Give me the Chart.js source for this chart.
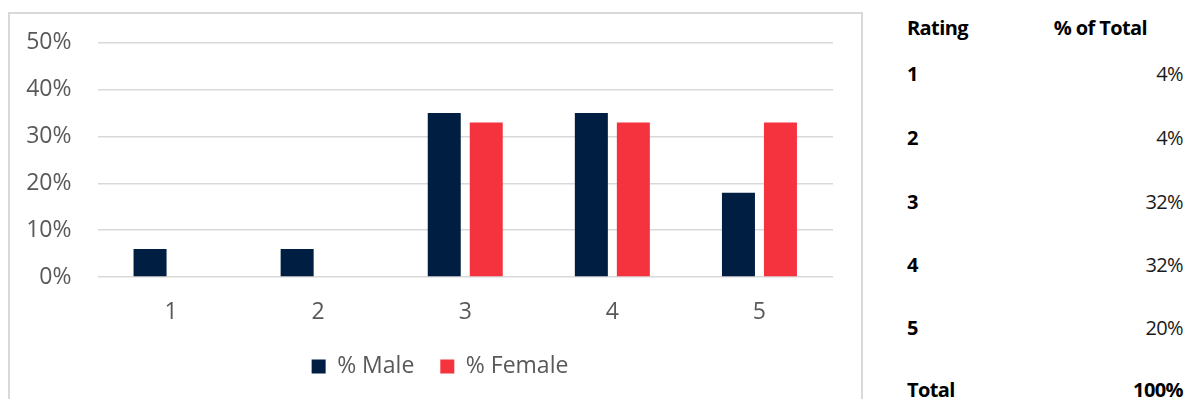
<!DOCTYPE html>
<html>
<head>
<meta charset="utf-8">
<script src="https://cdn.jsdelivr.net/npm/chart.js"></script>
<style>
  body {
    margin: 0;
    width: 1190px;
    height: 399px;
    overflow: hidden;
    background: #fff;
    font-family: "Open Sans", sans-serif;
  }
  #chartBox {
    position: absolute;
    left: 8px;
    top: 12px;
    width: 851px;
    height: 400px;
    border: 2px solid #d9d9d9;
  }
  #ratingChart {
    position: absolute;
    left: 10px;
    top: 3px;
  }
  .row {
    position: absolute;
    left: 907px;
    width: 276px;
    height: 28px;
    line-height: 28px;
    font-size: 20px;
    color: #000;
    letter-spacing: -0.6px;
  }
  .row .label {
    position: absolute;
    left: 0;
    font-weight: 700;
  }
  .row .value {
    position: absolute;
    right: 0;
    color: #1a1a1a;
  }
  .row .head {
    position: absolute;
    right: 36px;
    font-weight: 700;
  }
  .row .bold {
    font-weight: 700;
    color: #000;
  }
</style>
</head>
<body>
<div id="chartBox"></div>
<canvas id="ratingChart" width="860" height="396"></canvas>
<div id="ratingTable"></div>

<script>
// ===== data =====
const ratings = ["1", "2", "3", "4", "5"];
const malePct = [6, 6, 35, 35, 18];
const femalePct = [0, 0, 33, 33, 33];
const yTicks = [0, 10, 20, 30, 40, 50];

// table on the right
const tableRatings = ["1", "2", "3", "4", "5"];
const tableShare = [4, 4, 32, 32, 20];
const tableTotal = 100;

// ===== table =====
function buildTable() {
  const table = document.getElementById("ratingTable");
  const rowCenters = [74, 138, 202, 265, 328];

  let html = `
    <div class="row" style="top:${28 - 14.5}px">
      <span class="label">Rating</span>
      <span class="head">% of Total</span>
    </div>`;

  tableRatings.forEach((r, i) => {
    html += `
      <div class="row" style="top:${rowCenters[i] - 14.5}px">
        <span class="label">${r}</span>
        <span class="value">${tableShare[i]}%</span>
      </div>`;
  });

  html += `
    <div class="row" style="top:${390 - 14.5}px">
      <span class="label">Total</span>
      <span class="value bold">${tableTotal}%</span>
    </div>`;

  table.innerHTML = html;
}

buildTable();

// ===== chart =====
const tickFont = { family: "'Open Sans', sans-serif", size: 23 };

const ratingChart = new Chart(document.getElementById("ratingChart"), {
  type: "bar",
  data: {
    labels: ratings,
    datasets: [
      {
        label: "% Male",
        data: malePct,
        backgroundColor: "#001E41",
        categoryPercentage: 0.571,
        barPercentage: 0.786,
      },
      {
        label: "% Female",
        data: femalePct,
        backgroundColor: "#F5333F",
        categoryPercentage: 0.571,
        barPercentage: 0.786,
      },
    ],
  },
  options: {
    responsive: false,
    animation: false,
    layout: {
      padding: { left: 0, right: 0, top: 17, bottom: 11 },
    },
    plugins: {
      legend: {
        position: "bottom",
        labels: {
          boxWidth: 14,
          boxHeight: 14,
          padding: 26,
          color: "#595959",
          font: tickFont,
        },
      },
      tooltip: { enabled: false },
    },
    scales: {
      x: {
        grid: { display: false, drawTicks: false },
        border: { display: false },
        ticks: { color: "#595959", font: tickFont, padding: 22 },
        afterFit: (scale) => {
          scale.height = 52;
        },
      },
      y: {
        min: yTicks[0],
        max: yTicks[yTicks.length - 1],
        afterBuildTicks: (scale) => {
          scale.ticks = yTicks.map((v) => ({ value: v }));
        },
        grid: { color: "#d9d9d9", lineWidth: 1.5, drawTicks: false },
        border: { display: false },
        ticks: {
          color: "#595959",
          font: tickFont,
          padding: 26,
          callback: (v) => v + "%",
        },
        afterFit: (scale) => {
          scale.width = 87.5;
        },
      },
      // empty space on the right so the legend centres like the original
      rightGap: {
        position: "right",
        grid: { display: false, drawTicks: false },
        border: { display: false },
        ticks: { display: false },
        afterFit: (scale) => {
          scale.width = 37;
        },
      },
    },
  },
});
</script>
</body>
</html>
